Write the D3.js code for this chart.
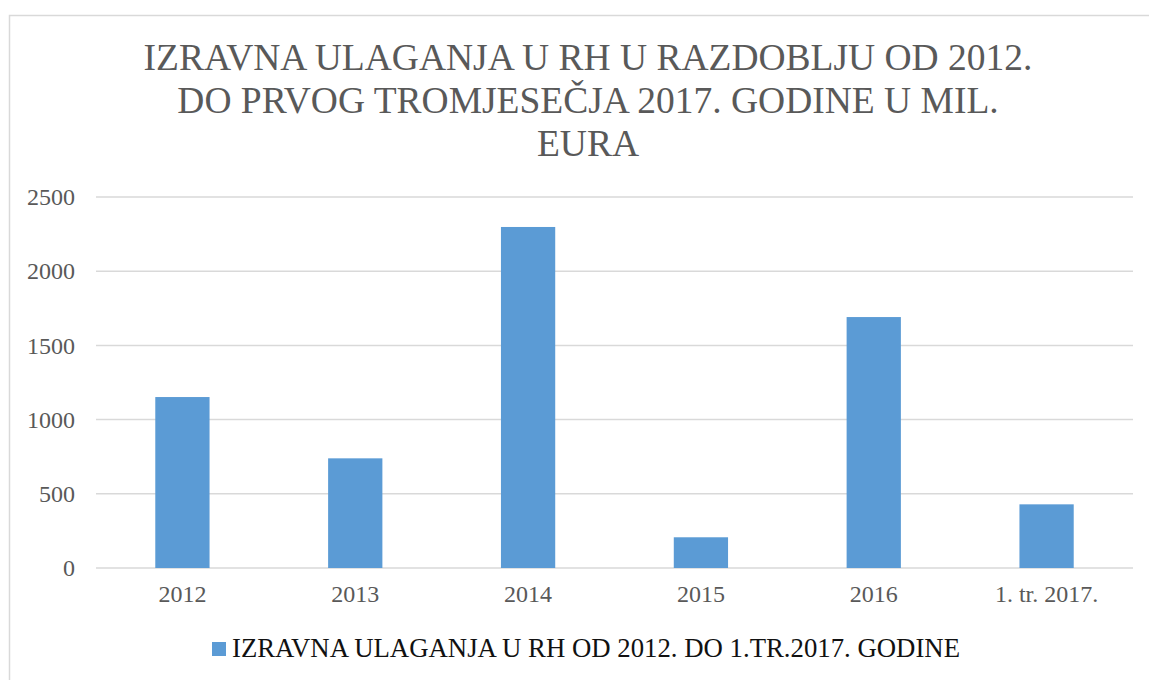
<!DOCTYPE html>
<html>
<head>
<meta charset="utf-8">
<script src="https://cdn.jsdelivr.net/npm/d3@7"></script>
<style>
  body { margin: 0; background: #fff; }
  svg { display: block; }
</style>
</head>
<body>
<script>
// data
const categories = ['2012', '2013', '2014', '2015', '2016', '1. tr. 2017.'];
const values = [1152, 739, 2298, 207, 1691, 429];
const yTicks = [0, 500, 1000, 1500, 2000, 2500];
const titleLines = [
    'IZRAVNA ULAGANJA U RH U RAZDOBLJU OD 2012.',
    'DO PRVOG TROMJESEČJA 2017. GODINE U MIL.',
    'EURA'
];
const seriesName = 'IZRAVNA ULAGANJA U RH OD 2012. DO 1.TR.2017. GODINE';

const W = 1149, H = 680;
const serif = '"Liberation Serif"';
const barColor = '#5b9bd5';
const gridColor = '#d9d9d9';
const textGray = '#595959';

const svg = d3.select('body').append('svg')
    .attr('width', W)
    .attr('height', H)
    .style('font-family', serif);

// chart frame (runs off the right/bottom edge like the screenshot)
svg.append('rect')
    .attr('x', 9.5).attr('y', 15.5)
    .attr('width', W + 10).attr('height', H + 10)
    .attr('fill', 'none')
    .attr('stroke', gridColor)
    .attr('stroke-width', 1.5);

// title
svg.append('g').selectAll('text')
    .data(titleLines)
    .enter().append('text')
    .attr('x', 588)
    .attr('y', (d, i) => 70 + i * 43)
    .attr('text-anchor', 'middle')
    .attr('fill', textGray)
    .style('font-family', serif)
    .style('font-size', '37.5px')
    .text(d => d);

const x = d3.scaleBand()
    .domain(categories)
    .range([96, 1133])
    .paddingInner(0.686)
    .paddingOuter(0.343);

const y = d3.scaleLinear()
    .domain([0, 2500])
    .range([568, 197]);

// gridlines
svg.append('g').selectAll('line')
    .data(yTicks)
    .enter().append('line')
    .attr('x1', 96).attr('x2', 1133)
    .attr('y1', d => y(d)).attr('y2', d => y(d))
    .attr('stroke', gridColor)
    .attr('stroke-width', 1.5);

// y axis labels
const yAxis = svg.append('g')
    .attr('transform', 'translate(75,0)')
    .call(d3.axisLeft(y).tickValues(yTicks).tickFormat(d3.format('d')).tickSize(0).tickPadding(0));
yAxis.select('.domain').remove();
yAxis.attr('font-family', null).attr('font-size', null);
yAxis.selectAll('text')
    .attr('fill', textGray)
    .style('font-size', '24px')
    .style('font-family', serif);

// bars
svg.append('g').selectAll('rect')
    .data(values)
    .enter().append('rect')
    .attr('x', (d, i) => x(categories[i]))
    .attr('y', d => y(d))
    .attr('width', x.bandwidth())
    .attr('height', d => y(0) - y(d))
    .attr('fill', barColor);

// x axis labels
const xAxis = svg.append('g')
    .attr('transform', 'translate(0,568)')
    .call(d3.axisBottom(x).tickSize(0).tickPadding(17));
xAxis.select('.domain').remove();
xAxis.attr('font-family', null).attr('font-size', null);
xAxis.selectAll('text')
    .attr('fill', textGray)
    .style('font-size', '24px')
    .style('font-family', serif);

// legend
const legend = svg.append('g');
legend.append('rect')
    .attr('x', 212).attr('y', 642)
    .attr('width', 14).attr('height', 14)
    .attr('fill', barColor);
legend.append('text')
    .attr('x', 232).attr('y', 657)
    .attr('fill', '#111')
    .style('font-family', serif)
    .style('font-size', '27px')
    .attr('textLength', 728)
    .attr('lengthAdjust', 'spacingAndGlyphs')
    .text(seriesName);
</script>
</body>
</html>
